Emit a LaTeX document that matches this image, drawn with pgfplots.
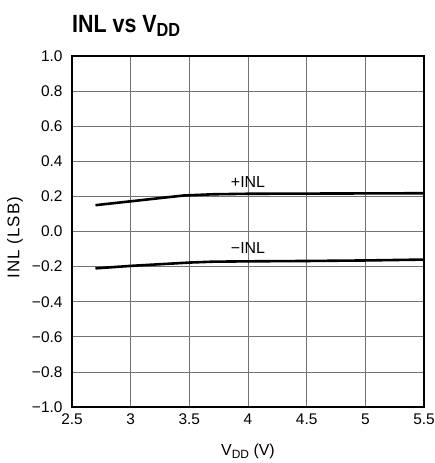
\documentclass[border=0pt]{standalone}
\usepackage{fontspec}
\setmainfont{Liberation Sans}
\newfontfamily\titlefont{Liberation Sans}[FakeStretch=0.86]
\newfontfamily\ylabfont{Liberation Sans}[LetterSpace=6]
\usepackage{pgfplots}
\pgfplotsset{compat=1.18}
\begin{document}
\begin{tikzpicture}
\path[use as bounding box] (-72bp,-56bp) rectangle (363bp,407bp);
\begin{axis}[
  at={(0,0)}, anchor=south west,
  scale only axis, width=352bp, height=351bp,
  xmin=2.5, xmax=5.5, ymin=-1, ymax=1,
  xtick={2.5,3,3.5,4,4.5,5,5.5},
  xticklabels={2.5,3,3.5,4,4.5,5,5.5},
  ytick={-1,-0.8,-0.6,-0.4,-0.2,0,0.2,0.4,0.6,0.8,1},
  yticklabels={−1.0,−0.8,−0.6,−0.4,−0.2,0.0,0.2,0.4,0.6,0.8,1.0},
  major tick length=0pt,
  grid=major,
  grid style={black!55, line width=0.7pt},
  axis line style={line width=1.3pt},
  tick label style={font=\fontsize{15.5}{18}\selectfont},
  xticklabel style={yshift=-3bp},
  yticklabel style={xshift=-6bp},
]
\addplot[line width=2.6bp, black] coordinates {
(2.7,0.150)(3.0,0.172)(3.45,0.205)(3.7,0.212)(4.0,0.215)(4.5,0.216)(5.0,0.217)(5.5,0.218)};
\addplot[line width=2.6bp, black] coordinates {
(2.7,-0.210)(3.0,-0.196)(3.5,-0.177)(3.7,-0.172)(4.0,-0.170)(4.5,-0.168)(5.0,-0.165)(5.5,-0.160)};
\node[font=\fontsize{16}{18}\selectfont] at (axis cs:4.0,0.28) {+INL};
\node[font=\fontsize{16}{18}\selectfont] at (axis cs:4.0,-0.095) {−INL};
\end{axis}
\node[anchor=base west, inner sep=0pt, font=\titlefont\bfseries\fontsize{25}{28}\selectfont] at (0bp,374bp) {INL vs V\raisebox{-4bp}{\fontsize{19}{20}\selectfont DD}};
\node[rotate=90, anchor=center, font=\ylabfont\fontsize{17}{19}\selectfont] at (-57bp,169.5bp) {INL (LSB)};
\node[anchor=base, font=\fontsize{16}{18}\selectfont] at (176bp,-48bp) {V\raisebox{-3bp}{\fontsize{12}{13}\selectfont DD} (V)};
\end{tikzpicture}
\end{document}
